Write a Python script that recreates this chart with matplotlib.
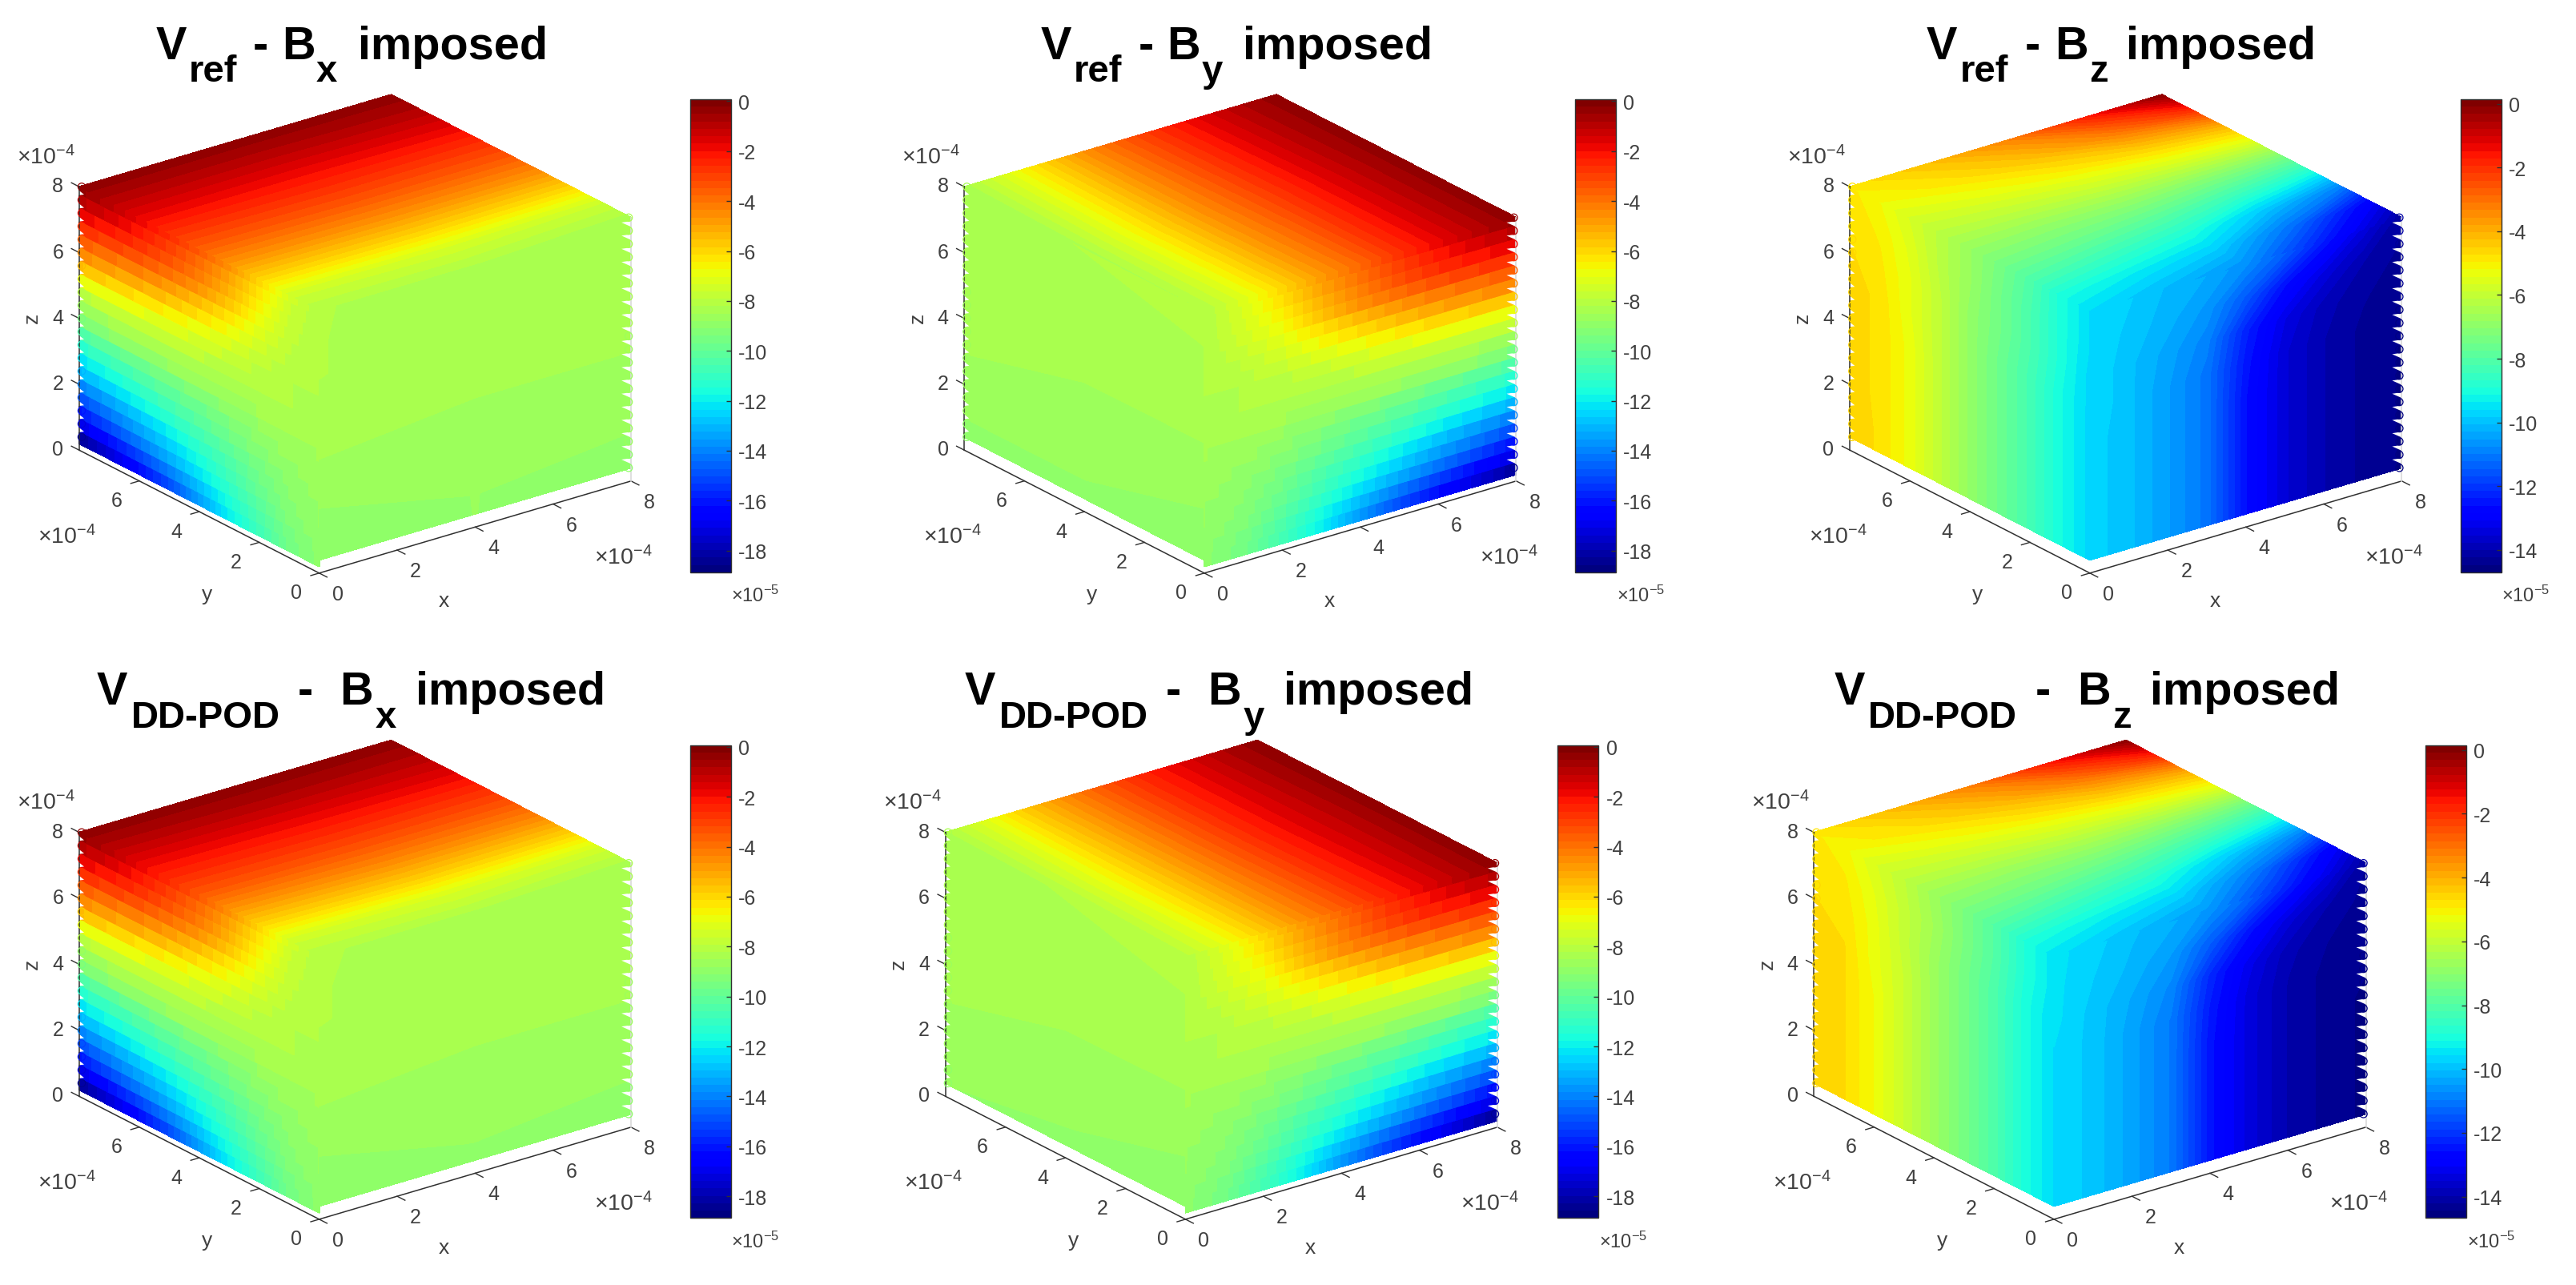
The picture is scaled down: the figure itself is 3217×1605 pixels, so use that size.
import numpy as np
import matplotlib
matplotlib.use("Agg")
import matplotlib.pyplot as plt
from matplotlib.cm import ScalarMappable
from matplotlib.colors import Normalize
from matplotlib.transforms import Affine2D

plt.rcParams["font.family"] = ["Liberation Sans", "DejaVu Sans"]
plt.rcParams["mathtext.fontset"] = "custom"
plt.rcParams["mathtext.rm"] = "Liberation Sans"
plt.rcParams["mathtext.it"] = "Liberation Sans"
plt.rcParams["mathtext.bf"] = "Liberation Sans:bold"
plt.rcParams["axes.unicode_minus"] = False

W, H = 3217, 1606
TEXT_COL = "#404040"

# heights of the rows in the vertical face tables (x1e-4)
Z_ROWS = [0.4, 1, 2, 3, 4, 5, 6, 7, 8]
# the 20 layers of points, seen on the two outer vertical edges
Z_LAYERS = [0.4, 0.8, 1.2, 1.6, 2.0, 2.4, 2.8, 3.2, 3.6, 4.0,
            4.4, 4.8, 5.2, 5.6, 6.0, 6.4, 6.8, 7.2, 7.6, 8.0]
X_TICKS = [0, 2, 4, 6, 8]
Y_TICKS = [0, 2, 4, 6]
Z_TICKS = [0, 2, 4, 6, 8]
COLORBAR_TICKS_18 = [0, -2, -4, -6, -8, -10, -12, -14, -16, -18]
COLORBAR_TICKS_14 = [0, -2, -4, -6, -8, -10, -12, -14]

# V values (x1e-5) read off the faces, rows go up in z (or y for the top face)
# left face is x=0 (columns y), right face is y=0 (columns x), top face is z=8 (columns x)
# faces with 20 rows show one band per layer of points
BX_LEFT = [
    [-9.0, -9.6, -10.8, -12.0, -13.5, -15.0, -16.2, -17.3, -18.3],
    [-9.0, -9.5, -10.5, -11.6, -12.9, -14.1, -15.2, -16.2, -17.1],
    [-8.9, -9.3, -10.2, -11.2, -12.2, -13.2, -14.2, -15.1, -16.0],
    [-8.8, -9.2, -9.9, -10.8, -11.7, -12.6, -13.4, -14.2, -15.0],
    [-8.8, -9.1, -9.7, -10.5, -11.2, -12.0, -12.7, -13.4, -14.0],
    [-8.7, -9.0, -9.5, -10.1, -10.7, -11.3, -11.9, -12.5, -13.0],
    [-8.6, -8.9, -9.2, -9.7, -10.2, -10.7, -11.2, -11.7, -12.2],
    [-8.6, -8.7, -9.0, -9.4, -9.8, -10.1, -10.5, -10.9, -11.3],
    [-8.5, -8.6, -8.8, -9.0, -9.3, -9.5, -9.8, -10.1, -10.4],
    [-8.4, -8.4, -8.5, -8.6, -8.7, -8.8, -8.9, -9.1, -9.4],
    [-8.4, -8.3, -8.3, -8.3, -8.3, -8.3, -8.4, -8.5, -8.8],
    [-8.3, -8.2, -8.2, -8.0, -7.9, -7.8, -7.8, -7.8, -8.0],
    [-8.3, -8.2, -8.0, -7.7, -7.4, -7.2, -7.0, -6.9, -6.8],
    [-8.2, -8.1, -7.8, -7.3, -6.9, -6.5, -6.2, -5.9, -5.5],
    [-8.2, -8.0, -7.5, -6.8, -6.2, -5.6, -5.2, -4.9, -4.5],
    [-8.2, -7.9, -7.2, -6.3, -5.5, -4.8, -4.3, -4.0, -3.6],
    [-8.2, -7.8, -6.9, -5.7, -4.7, -4.0, -3.4, -3.0, -2.7],
    [-8.2, -7.7, -6.6, -5.3, -4.2, -3.4, -2.7, -2.2, -1.8],
    [-8.2, -7.6, -6.3, -5.0, -3.9, -3.0, -2.2, -1.5, -1.0],
    [-8.2, -7.4, -6.0, -4.6, -3.5, -2.6, -1.8, -1.0, -0.4],
]
BX_RIGHT = [
    [-9.0, -8.8, -9.0], [-8.9, -8.8, -8.9], [-8.8, -8.6, -8.7],
    [-8.6, -8.6, -8.6], [-8.4, -8.5, -8.5], [-8.3, -8.4, -8.5],
    [-8.2, -8.4, -8.5], [-8.2, -8.4, -8.5], [-8.2, -8.3, -8.4],
]
BX_TOP = [
    [-8.2, -8.2, -8.4], [-7.5, -7.4, -7.6], [-6.0, -5.9, -6.0],
    [-4.7, -4.6, -4.6], [-3.6, -3.5, -3.5], [-2.7, -2.6, -2.6],
    [-1.8, -1.8, -1.7], [-1.0, -1.0, -0.9], [-0.3, -0.3, -0.3],
]
BX_EDGE_LEFT = [-18.3, -17.1, -16.0, -15.0, -14.0, -13.0, -12.2, -11.3, -10.4, -9.4,
                -8.8, -8.0, -6.8, -5.5, -4.5, -3.6, -2.7, -1.8, -1.0, -0.4]
BX_EDGE_RIGHT = [-8.9, -8.9, -8.8, -8.8, -8.7, -8.7, -8.7, -8.6, -8.6, -8.6,
                 -8.6, -8.5, -8.5, -8.5, -8.5, -8.5, -8.5, -8.4, -8.4, -8.4]

BY_LEFT = [
    [-9.0, -8.9, -8.9], [-8.9, -8.8, -8.8], [-8.8, -8.7, -8.6],
    [-8.7, -8.6, -8.5], [-8.5, -8.5, -8.5], [-8.4, -8.4, -8.5],
    [-8.3, -8.4, -8.5], [-8.2, -8.3, -8.4], [-8.2, -8.2, -8.3],
]
BY_RIGHT = [
    [-9.0, -9.6, -10.7, -12.0, -13.6, -15.0, -16.2, -17.3, -18.3],
    [-9.0, -9.5, -10.5, -11.7, -13.0, -14.2, -15.3, -16.3, -17.2],
    [-8.9, -9.3, -10.2, -11.2, -12.3, -13.3, -14.3, -15.2, -16.2],
    [-8.8, -9.2, -9.9, -10.8, -11.7, -12.6, -13.5, -14.3, -15.1],
    [-8.8, -9.1, -9.7, -10.5, -11.2, -12.0, -12.8, -13.5, -14.1],
    [-8.7, -9.0, -9.5, -10.1, -10.7, -11.3, -12.0, -12.6, -13.1],
    [-8.6, -8.9, -9.2, -9.7, -10.2, -10.7, -11.2, -11.7, -12.2],
    [-8.6, -8.7, -9.0, -9.4, -9.8, -10.1, -10.5, -10.9, -11.3],
    [-8.5, -8.6, -8.8, -9.0, -9.3, -9.5, -9.8, -10.1, -10.4],
    [-8.4, -8.4, -8.5, -8.6, -8.7, -8.8, -8.9, -9.1, -9.5],
    [-8.4, -8.3, -8.3, -8.3, -8.3, -8.3, -8.4, -8.5, -8.8],
    [-8.3, -8.2, -8.2, -8.0, -7.9, -7.8, -7.7, -7.7, -7.9],
    [-8.3, -8.2, -8.0, -7.7, -7.4, -7.1, -6.9, -6.8, -6.8],
    [-8.2, -8.0, -7.7, -7.2, -6.8, -6.4, -6.0, -5.8, -5.6],
    [-8.2, -7.9, -7.4, -6.7, -6.1, -5.5, -5.0, -4.7, -4.4],
    [-8.2, -7.7, -7.1, -6.2, -5.4, -4.7, -4.2, -3.9, -3.5],
    [-8.2, -7.5, -6.8, -5.6, -4.6, -3.9, -3.3, -2.9, -2.6],
    [-8.2, -7.4, -6.5, -5.3, -4.3, -3.3, -2.6, -2.1, -1.8],
    [-8.2, -7.3, -6.2, -5.0, -4.0, -3.0, -2.2, -1.5, -1.0],
    [-8.2, -7.2, -6.0, -4.8, -3.8, -2.7, -1.8, -1.0, -0.4],
]
BY_TOP = [
    [-8.2, -7.2, -6.0, -4.8, -3.8, -2.7, -1.8, -1.0, -0.3],
    [-8.3, -7.1, -5.9, -4.7, -3.7, -2.7, -1.8, -1.0, -0.3],
    [-8.4, -7.3, -6.0, -4.7, -3.6, -2.6, -1.7, -0.9, -0.3],
]
BY_EDGE_LEFT = [-8.9, -8.9, -8.8, -8.7, -8.6, -8.6, -8.6, -8.6, -8.6, -8.6,
                -8.6, -8.6, -8.5, -8.5, -8.5, -8.4, -8.4, -8.4, -8.3, -8.3]
BY_EDGE_RIGHT = [-18.3, -17.2, -16.2, -15.1, -14.1, -13.1, -12.2, -11.3, -10.4, -9.5,
                 -8.8, -7.9, -6.8, -5.6, -4.4, -3.5, -2.6, -1.8, -1.0, -0.4]

BZ_LEFT = [
    [-9.7, -9.1, -8.3, -7.6, -6.9, -6.1, -5.3, -4.8, -4.5],
    [-9.7, -9.1, -8.3, -7.6, -6.9, -6.1, -5.3, -4.8, -4.5],
    [-9.7, -9.1, -8.3, -7.6, -6.9, -6.1, -5.3, -4.8, -4.6],
    [-9.7, -9.1, -8.3, -7.6, -6.9, -6.1, -5.3, -4.8, -4.6],
    [-9.7, -9.1, -8.3, -7.6, -6.9, -6.1, -5.3, -4.8, -4.6],
    [-9.7, -9.1, -8.3, -7.6, -6.9, -6.1, -5.4, -4.8, -4.6],
    [-9.7, -9.0, -8.2, -7.5, -6.9, -6.1, -5.4, -4.9, -4.7],
    [-9.6, -9.0, -8.2, -7.5, -6.8, -6.2, -5.5, -5.0, -4.8],
    [-9.6, -9.0, -8.1, -7.4, -6.8, -6.2, -5.7, -5.2, -4.9],
]
BZ_RIGHT = [
    [-9.7, -10.0, -10.5, -11.1, -12.6, -13.5, -14.0, -14.3, -14.5],
    [-9.7, -10.0, -10.5, -11.1, -12.6, -13.5, -14.0, -14.3, -14.5],
    [-9.7, -10.0, -10.5, -11.1, -12.6, -13.5, -14.0, -14.3, -14.5],
    [-9.7, -10.0, -10.5, -11.1, -12.6, -13.5, -14.0, -14.3, -14.5],
    [-9.7, -10.0, -10.5, -11.1, -12.6, -13.5, -14.0, -14.3, -14.5],
    [-9.6, -10.0, -10.5, -11.1, -12.5, -13.5, -14.0, -14.3, -14.4],
    [-9.6, -10.0, -10.4, -10.9, -12.3, -13.3, -13.9, -14.2, -14.4],
    [-9.6, -9.9, -10.2, -10.6, -11.5, -12.6, -13.4, -14.0, -14.3],
    [-9.6, -9.8, -10.1, -10.3, -10.7, -11.4, -12.4, -13.4, -14.2],
]
BZ_TOP = [
    [-9.6, -10.1, -10.7, -12.4, -14.2],
    [-9.0, -9.4, -9.8, -11.2, -13.0],
    [-8.1, -8.5, -8.9, -9.9, -11.0],
    [-7.4, -7.6, -7.9, -8.4, -9.0],
    [-6.8, -6.9, -6.9, -7.1, -7.3],
    [-6.2, -6.1, -5.9, -5.7, -5.5],
    [-5.7, -5.4, -5.0, -4.5, -4.0],
    [-5.2, -4.8, -4.2, -3.2, -2.0],
    [-4.9, -4.3, -3.4, -1.8, -0.1],
]
BZ_EDGE_LEFT = [-4.5, -4.5, -4.5, -4.5, -4.5, -4.6, -4.6, -4.6, -4.6, -4.6,
                -4.6, -4.6, -4.6, -4.6, -4.7, -4.7, -4.8, -4.8, -4.9, -4.9]
BZ_EDGE_RIGHT = [-14.5, -14.5, -14.5, -14.5, -14.5, -14.5, -14.5, -14.5, -14.5, -14.5,
                 -14.5, -14.5, -14.5, -14.4, -14.4, -14.4, -14.3, -14.3, -14.2, -14.2]

POD_BX_RIGHT = [
    [-9.0, -8.9, -9.1], [-8.9, -8.8, -8.9], [-8.8, -8.7, -8.7],
    [-8.6, -8.6, -8.6], [-8.4, -8.5, -8.5], [-8.3, -8.4, -8.5],
    [-8.2, -8.4, -8.5], [-8.2, -8.4, -8.5], [-8.2, -8.3, -8.4],
]
POD_BX_TOP = [
    [-8.2, -8.2, -8.4], [-7.5, -7.3, -7.5], [-6.0, -5.8, -5.9],
    [-4.7, -4.5, -4.5], [-3.5, -3.4, -3.4], [-2.6, -2.5, -2.5],
    [-1.8, -1.7, -1.6], [-1.0, -0.9, -0.9], [-0.3, -0.3, -0.3],
]
POD_BX_EDGE_LEFT = [-18.4, -17.2, -16.1, -15.1, -14.1, -13.1, -12.2, -11.3, -10.5, -9.6,
                    -8.9, -8.0, -6.9, -5.6, -4.5, -3.5, -2.6, -1.8, -1.0, -0.4]
POD_BX_EDGE_RIGHT = [-9.0, -8.9, -8.9, -8.8, -8.7, -8.7, -8.7, -8.6, -8.6, -8.6,
                     -8.6, -8.5, -8.5, -8.5, -8.5, -8.5, -8.5, -8.4, -8.4, -8.4]

POD_BY_LEFT = [
    [-9.0, -8.9, -8.8], [-8.9, -8.8, -8.7], [-8.8, -8.7, -8.6],
    [-8.7, -8.6, -8.5], [-8.5, -8.5, -8.5], [-8.4, -8.4, -8.5],
    [-8.3, -8.4, -8.5], [-8.2, -8.3, -8.4], [-8.2, -8.2, -8.3],
]
POD_BY_TOP = [
    [-8.0, -7.0, -5.8, -4.6, -3.6, -2.6, -1.8, -1.0, -0.3],
    [-8.2, -7.0, -5.8, -4.6, -3.5, -2.5, -1.7, -1.0, -0.3],
    [-8.3, -7.2, -5.8, -4.6, -3.5, -2.5, -1.7, -0.9, -0.3],
]
POD_BY_EDGE_LEFT = [-8.9, -8.9, -8.8, -8.7, -8.6, -8.6, -8.6, -8.6, -8.6, -8.6,
                    -8.6, -8.6, -8.5, -8.5, -8.5, -8.4, -8.4, -8.4, -8.3, -8.3]
POD_BY_EDGE_RIGHT = [-18.4, -17.3, -16.3, -15.2, -14.2, -13.2, -12.3, -11.4, -10.5, -9.6,
                     -8.8, -7.9, -6.8, -5.5, -4.3, -3.4, -2.5, -1.8, -1.0, -0.4]

POD_BZ_LEFT = [
    [-9.6, -9.0, -8.1, -7.4, -6.7, -5.9, -5.2, -4.7, -4.5],
    [-9.6, -9.0, -8.1, -7.4, -6.7, -5.9, -5.2, -4.7, -4.5],
    [-9.6, -9.0, -8.1, -7.4, -6.7, -5.9, -5.2, -4.7, -4.5],
    [-9.6, -9.0, -8.1, -7.4, -6.7, -5.9, -5.2, -4.7, -4.6],
    [-9.6, -9.0, -8.1, -7.4, -6.7, -5.9, -5.2, -4.7, -4.6],
    [-9.6, -9.0, -8.1, -7.4, -6.7, -5.9, -5.3, -4.7, -4.6],
    [-9.6, -9.0, -8.1, -7.4, -6.7, -6.0, -5.3, -4.8, -4.7],
    [-9.5, -8.9, -8.0, -7.3, -6.6, -6.0, -5.4, -4.9, -4.8],
    [-9.5, -8.9, -8.0, -7.3, -6.7, -6.1, -5.6, -5.1, -4.9],
]
POD_BZ_RIGHT = [
    [-9.6, -9.9, -10.4, -11.0, -12.5, -13.4, -14.0, -14.3, -14.5],
    [-9.6, -9.9, -10.4, -11.0, -12.5, -13.4, -14.0, -14.3, -14.5],
    [-9.6, -9.9, -10.4, -11.0, -12.5, -13.4, -14.0, -14.3, -14.5],
    [-9.6, -9.9, -10.4, -11.0, -12.5, -13.4, -14.0, -14.3, -14.5],
    [-9.6, -9.9, -10.4, -11.0, -12.5, -13.4, -14.0, -14.3, -14.5],
    [-9.6, -9.9, -10.4, -11.0, -12.4, -13.4, -14.0, -14.3, -14.4],
    [-9.5, -9.9, -10.3, -10.8, -12.2, -13.2, -13.9, -14.2, -14.4],
    [-9.5, -9.8, -10.1, -10.5, -11.4, -12.5, -13.4, -14.0, -14.3],
    [-9.5, -9.7, -10.0, -10.2, -10.6, -11.3, -12.3, -13.3, -14.2],
]
POD_BZ_TOP = [
    [-9.5, -10.0, -10.6, -12.3, -14.2],
    [-8.9, -9.3, -9.7, -11.1, -13.0],
    [-8.0, -8.4, -8.8, -9.8, -11.0],
    [-7.3, -7.5, -7.8, -8.3, -9.0],
    [-6.7, -6.8, -6.8, -7.0, -7.3],
    [-6.1, -6.0, -5.8, -5.6, -5.4],
    [-5.6, -5.3, -4.9, -4.4, -3.9],
    [-5.1, -4.7, -4.1, -3.1, -1.9],
    [-4.9, -4.2, -3.3, -1.7, -0.1],
]
POD_BZ_EDGE_LEFT = [-4.5, -4.5, -4.5, -4.5, -4.5, -4.6, -4.6, -4.6, -4.6, -4.6,
                    -4.6, -4.6, -4.6, -4.6, -4.7, -4.7, -4.8, -4.8, -4.9, -4.9]
POD_BZ_EDGE_RIGHT = [-14.5, -14.5, -14.5, -14.5, -14.5, -14.5, -14.5, -14.5, -14.5, -14.5,
                     -14.5, -14.5, -14.5, -14.4, -14.4, -14.4, -14.3, -14.3, -14.2, -14.2]

cmap = plt.get_cmap("jet", 64)


def put_title(ax, x0, base, sub_base, pieces):
    # pieces are (text, offset from first letter, is subscript)
    for txt, dx, is_sub in pieces:
        ax.text(x0 + dx, sub_base if is_sub else base, txt, ha="center", va="baseline",
                fontweight="bold", fontsize=34 if is_sub else 41.5, color="black")


def draw_face(ax, table, origin, u, v, rows, norm):
    table = np.array(table)
    if len(table) == len(Z_LAYERS):
        # one flat band per layer, same row twice so the contours stay within the band
        table = np.repeat(table, 2, axis=0)
        rows = np.column_stack([np.array(Z_LAYERS) - 0.2, np.array(Z_LAYERS) + 0.18]).ravel()
        rows[-1] = 8
    cols = np.linspace(0, 8, table.shape[1])
    m = [[u[0] / 8, v[0] / 8, origin[0]], [u[1] / 8, v[1] / 8, origin[1]], [0, 0, 1]]
    tr = Affine2D(np.array(m)) + ax.transData
    levels = np.linspace(norm.vmin, norm.vmax, 65)
    cs = ax.contourf(cols, rows, table, levels=levels, cmap=cmap, norm=norm,
                     transform=tr, extend="both")
    cs.set_edgecolor("face")
    cs.set_linewidth(0.6)


def draw_cube(ax, panel):
    front = np.array(panel["front"], dtype=float)
    xv = np.array(panel["xv"], dtype=float)
    yv = np.array(panel["yv"], dtype=float)
    zv = np.array([0, panel["zh"]], dtype=float)
    norm = Normalize(panel["vmin"], panel["vmax"])

    def at(x, y, z):
        return front + xv * x / 8 + yv * y / 8 + zv * z / 8

    # three real axis lines
    for p, q in [((0, 0, 0), (8, 0, 0)), ((0, 0, 0), (0, 8, 0))]:
        a, b = at(*p), at(*q)
        ax.plot([a[0], b[0]], [a[1], b[1]], color="#303030", lw=1.1, zorder=1)

    draw_face(ax, panel["left"], front, yv, zv, Z_ROWS, norm)
    draw_face(ax, panel["right"], front, xv, zv, Z_ROWS, norm)
    draw_face(ax, panel["top"], front + zv, xv, yv, np.linspace(0, 8, len(panel["top"])), norm)

    # saw teeth between the layers on the two outer edges
    for lo, hi in zip(Z_LAYERS[:-1], Z_LAYERS[1:]):
        top = at(8, 0, hi - 0.1)
        bot = at(8, 0, lo + 0.1)
        ax.fill([top[0] + 2, bot[0] + 2, top[0] - 12], [top[1], bot[1], top[1] + 2],
                color="white", lw=0, zorder=2)
        top = at(0, 8, hi - 0.08)
        bot = at(0, 8, lo + 0.14)
        ax.fill([top[0] - 2, bot[0] - 2, bot[0] + 6], [top[1], bot[1], bot[1] - 1],
                color="white", lw=0, zorder=2)
    a, b = at(8, 0, 0), at(8, 0, 8)
    ax.plot([a[0], b[0]], [a[1], b[1]], color="#d9d9d9", lw=1.2, zorder=2.2)
    a, b = at(0, 8, 0), at(0, 8, 8)
    ax.plot([a[0], b[0]], [a[1], b[1]], color="#303030", lw=1.1, zorder=2.2)

    # the layers of open circles that stick out on the two outer edges
    for edge, xe, ye, dx in [(panel["edge_left"], 0, 8, 3), (panel["edge_right"], 8, 0, -3)]:
        pts = np.array([at(xe, ye, z) for z in Z_LAYERS])
        ax.scatter(pts[:, 0] + dx, pts[:, 1], s=44, facecolors="none", edgecolors=cmap(norm(edge)),
                   linewidths=0.9, zorder=3)

    xdir = xv / np.hypot(*xv)
    ydir = yv / np.hypot(*yv)
    for t in X_TICKS:
        a = at(t, 0, 0)
        b = a - ydir * 11
        ax.plot([a[0], b[0]], [a[1], b[1]], color="#303030", lw=1.0)
        ax.text(a[0] + 23, a[1] + 26, str(t), ha="center", va="center", fontsize=18, color=TEXT_COL)
    for t in Y_TICKS:
        a = at(0, t, 0)
        b = a - xdir * 11
        ax.plot([a[0], b[0]], [a[1], b[1]], color="#303030", lw=1.0)
        ax.text(a[0] - 28.7, a[1] + 24.5, str(t), ha="center", va="center", fontsize=18, color=TEXT_COL)
    for t in Z_TICKS:
        a = at(0, 8, t)
        b = a + ydir * 11
        ax.plot([a[0], b[0]], [a[1], b[1]], color="#303030", lw=1.0)
        ax.text(a[0] - 26.8, a[1] - 1, str(t), ha="center", va="center", fontsize=18, color=TEXT_COL)

    ax.text(front[0] + 156, front[1] + 34.7, "x", ha="center", va="center", fontsize=19, color=TEXT_COL)
    ax.text(front[0] - 140, front[1] + 26, "y", ha="center", va="center", fontsize=19, color=TEXT_COL)
    zp = at(0, 8, 4)
    ax.text(zp[0] - 59, zp[1] - 1, "z", rotation=90, ha="center", va="center", fontsize=19, color=TEXT_COL)

    exp = r"$\times\mathregular{10^{-4}}$"
    p = at(0, 8, 8)
    ax.text(p[0] - 42, p[1] - 38, exp, ha="center", va="center", fontsize=20.5, color=TEXT_COL)
    p = at(0, 8, 0)
    ax.text(p[0] - 15.3, p[1] + 107, exp, ha="center", va="center", fontsize=20.5, color=TEXT_COL)
    p = at(8, 0, 0)
    ax.text(p[0] - 9.6, p[1] + 95, exp, ha="center", va="center", fontsize=20.5, color=TEXT_COL)

    # colorbar
    x0, x1, y0, y1 = panel["cbar"]
    cax = ax.figure.add_axes([x0 / W, 1 - y1 / H, (x1 - x0) / W, (y1 - y0) / H])
    cb = ax.figure.colorbar(ScalarMappable(norm=norm, cmap=cmap), cax=cax)
    cb.set_ticks(panel["cticks"])
    cb.set_ticklabels([str(t) for t in panel["cticks"]])
    cb.ax.tick_params(direction="in", length=4.6, width=1.0, pad=6.5, labelsize=18,
                      color="#303030", labelcolor=TEXT_COL)
    cb.outline.set_linewidth(1.0)
    cb.outline.set_edgecolor("#303030")
    ax.text(x1 + 30.6, y1 + 29, r"$\times\mathregular{10^{-5}}$", ha="center", va="center",
            fontsize=17, color=TEXT_COL)


XV = (389.5, -115)
YV = (-299.6, -153.5)
panels = [
    dict(front=(398.6, 716.8), xv=XV, yv=YV, zh=-329, vmin=-18.87, vmax=0.08,
         cbar=(861.6, 912.6, 125, 715.8), cticks=COLORBAR_TICKS_18, left=BX_LEFT, right=BX_RIGHT, top=BX_TOP,
         edge_left=BX_EDGE_LEFT, edge_right=BX_EDGE_RIGHT),
    dict(front=(1504, 716.8), xv=XV, yv=YV, zh=-329, vmin=-18.87, vmax=0.08,
         cbar=(1966.5, 2018.1, 125, 715.8), cticks=COLORBAR_TICKS_18, left=BY_LEFT, right=BY_RIGHT, top=BY_TOP,
         edge_left=BY_EDGE_LEFT, edge_right=BY_EDGE_RIGHT),
    dict(front=(2609.9, 716.8), xv=XV, yv=YV, zh=-329, vmin=-14.7, vmax=0.14,
         cbar=(3072.9, 3123.8, 125, 715.8), cticks=COLORBAR_TICKS_14, left=BZ_LEFT, right=BZ_RIGHT, top=BZ_TOP,
         edge_left=BZ_EDGE_LEFT, edge_right=BZ_EDGE_RIGHT),
    dict(front=(398.6, 1523.9), xv=XV, yv=YV, zh=-329.7, vmin=-18.87, vmax=0.07,
         cbar=(861.6, 912.6, 931.6, 1522.4), cticks=COLORBAR_TICKS_18, left=BX_LEFT, right=POD_BX_RIGHT,
         top=POD_BX_TOP, edge_left=POD_BX_EDGE_LEFT, edge_right=POD_BX_EDGE_RIGHT),
    dict(front=(1480.5, 1523.9), xv=XV, yv=YV, zh=-329.7, vmin=-18.87, vmax=0.07,
         cbar=(1945.4, 1996.5, 931.6, 1522.4), cticks=COLORBAR_TICKS_18, left=POD_BY_LEFT, right=BY_RIGHT,
         top=POD_BY_TOP, edge_left=POD_BY_EDGE_LEFT, edge_right=POD_BY_EDGE_RIGHT),
    dict(front=(2565.1, 1523.9), xv=XV, yv=YV, zh=-329.7, vmin=-14.67, vmax=0.15,
         cbar=(3029.2, 3080.2, 931.6, 1522.4), cticks=COLORBAR_TICKS_14, left=POD_BZ_LEFT, right=POD_BZ_RIGHT,
         top=POD_BZ_TOP, edge_left=POD_BZ_EDGE_LEFT, edge_right=POD_BZ_EDGE_RIGHT),
]

fig = plt.figure(figsize=(W / 100, H / 100), dpi=100)
ax = fig.add_axes([0, 0, 1, 1])
ax.set_xlim(0, W)
ax.set_ylim(H, 0)
ax.axis("off")

for panel in panels:
    draw_cube(ax, panel)

# title pieces sit at their own spots since the subscripts drop far below the line
ref_off = [("V", 0, False), ("ref", 52.3, True), ("-", 112.2, False), ("B", 159.4, False)]
pod_off = [("V", 0, False), ("DD-POD", 117.3, True), ("-", 241.7, False), ("B", 305.5, False)]
put_title(ax, 213.6, 74, 102, ref_off + [("x", 194.5, True), ("imposed", 352, False)])
put_title(ax, 1319, 74, 102, ref_off + [("y", 194.5, True), ("imposed", 352, False)])
put_title(ax, 2424.7, 74, 102, [("V", 0, False), ("ref", 53.6, True), ("-", 113.8, False), ("B", 162, False),
                                ("z", 196.4, True), ("imposed", 349.2, False)])
put_title(ax, 139.7, 879.7, 909, pod_off + [("x", 342.5, True), ("imposed", 498, False)])
put_title(ax, 1223.5, 879.7, 909, pod_off + [("y", 342.5, True), ("imposed", 498, False)])
put_title(ax, 2309.9, 879.7, 909, [("V", 0, False), ("DD-POD", 116.4, True), ("-", 241.6, False), ("B", 304.9, False),
                                   ("z", 340.3, True), ("imposed", 493.4, False)])

fig.savefig("out.png", dpi=100)
